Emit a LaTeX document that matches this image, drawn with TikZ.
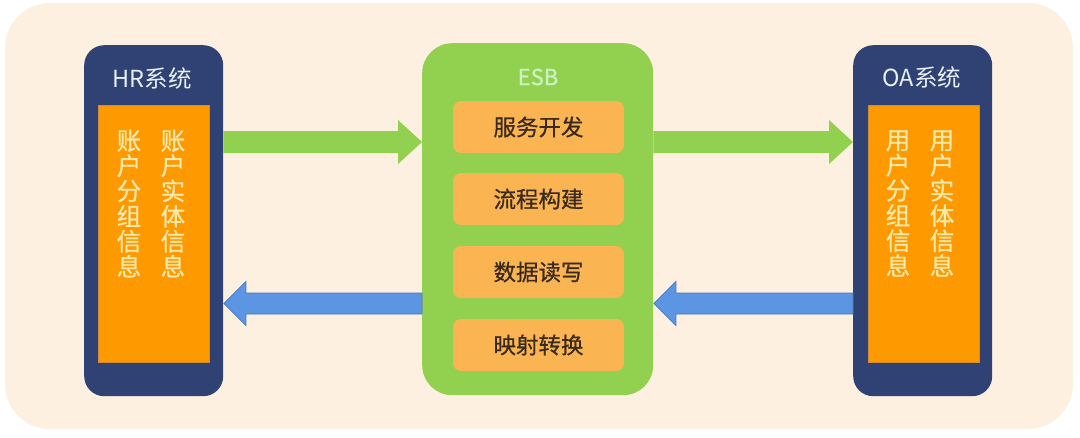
\documentclass[tikz,border=0pt]{standalone}
\usepackage{fontspec}
\newfontfamily\cjk{Noto Sans CJK SC}
\newfontfamily\cjkm[FakeBold=0.7]{Noto Sans CJK SC}
\usetikzlibrary{calc}
\definecolor{bgc}{HTML}{FDF0E1}
\definecolor{navy}{HTML}{2F4273}
\definecolor{orng}{HTML}{FF9900}
\definecolor{orngbd}{HTML}{D08A3A}
\definecolor{lorng}{HTML}{FAB552}
\definecolor{grn}{HTML}{92D050}
\definecolor{blu}{HTML}{5C95E2}
\definecolor{blubd}{HTML}{4877C0}
\definecolor{ttl}{HTML}{E8EFF8}
\definecolor{esbt}{HTML}{CDF2C2}
\definecolor{vtxt}{HTML}{FFE9AA}
\definecolor{dtxt}{HTML}{3A2A1A}
\newcommand{\blockarr}[6]{%
  \path[#1] ($(#2)+(0,-#5)$) -- ($(#3)+({-1*(#4)},-#5)$) -- ($(#3)+({-1*(#4)},-#6)$) -- (#3)
    -- ($(#3)+({-1*(#4)},#6)$) -- ($(#3)+({-1*(#4)},#5)$) -- ($(#2)+(0,#5)$) -- cycle;}
\tikzset{
  sysbox/.style={fill=navy, rounded corners=20pt, inner sep=0pt, minimum width=139pt, minimum height=351pt, anchor=north west},
  infobox/.style={fill=orng, draw=orngbd, line width=0.8pt, inner sep=0pt, minimum width=111pt, minimum height=257pt, anchor=north west},
  esbbox/.style={fill=grn, rounded corners=30pt, inner sep=0pt, minimum width=231pt, minimum height=352pt, anchor=north west},
  funcbox/.style={fill=lorng, rounded corners=8pt, inner sep=0pt, minimum width=171pt, minimum height=52pt, text=dtxt, font=\cjkm\fontsize{22.5}{26}\selectfont},
  systitle/.style={text=ttl, font=\cjk\fontsize{23.5}{26}\selectfont, inner sep=0pt},
  esbtitle/.style={text=esbt, font=\cjkm\fontsize{22}{26}\selectfont, inner sep=0pt},
  vcol/.style={text=vtxt, font=\cjkm\fontsize{24.5}{25.2}\selectfont, align=center, inner sep=0pt},
  garrow/.style={fill=grn},
  barrow/.style={fill=blu, draw=blubd, line width=0.8pt, line join=miter}
}
\begin{document}
\begin{tikzpicture}[x=1pt,y=-1pt]
\useasboundingbox (0,0) rectangle (1080,437);
\fill[white] (0,0) rectangle (1080,437);
\fill[bgc, rounded corners=45pt] (5,3) rectangle (1073,429);

% systems
\node[sysbox] (hr) at (84,45) {};
\node[infobox] (hri) at (98,105) {};
\node[sysbox] (oa) at (853,45) {};
\node[infobox] (oai) at (868,105) {};
\node[esbbox] (esb) at (422,43) {};

\node[systitle] (hrt) at (152,78) {HR系统};
\node[systitle] (oat) at (922,77) {OA系统};
\node[esbtitle] (esbt) at (538,77) {ESB};

\node[vcol] (hr1) at (129,203.5) {账\\户\\分\\组\\信\\息};
\node[vcol] (hr2) at (173,203.5) {账\\户\\实\\体\\信\\息};
\node[vcol] (oa1) at (898,203.5) {用\\户\\分\\组\\信\\息};
\node[vcol] (oa2) at (942,203.5) {用\\户\\实\\体\\信\\息};

\node[funcbox] (f1) at (538.5,127) {服务开发};
\node[funcbox] (f2) at (538.5,199) {流程构建};
\node[funcbox] (f3) at (538.5,272) {数据读写};
\node[funcbox] (f4) at (538.5,345) {映射转换};

% arrows
\coordinate (ytop) at (0,142);
\coordinate (ybot) at (0,303.5);
\coordinate (a1s) at (hr.east |- ytop);
\coordinate (a1t) at (esb.west |- ytop);
\coordinate (a2s) at (esb.east |- ytop);
\coordinate (a2t) at (oa.west |- ytop);
\coordinate (b1s) at (oa.west |- ybot);
\coordinate (b1t) at ($(esb.east |- ybot)+(0.5,0)$);
\coordinate (b2s) at (esb.west |- ybot);
\coordinate (b2t) at ($(hr.east |- ybot)+(0.5,0)$);
\blockarr{garrow}{a1s}{a1t}{24}{11}{22}
\blockarr{garrow}{a2s}{a2t}{24}{11}{22}
\blockarr{barrow}{b1s}{b1t}{-22}{10.5}{22}
\blockarr{barrow}{b2s}{b2t}{-22}{10.5}{22}
\end{tikzpicture}
\end{document}
